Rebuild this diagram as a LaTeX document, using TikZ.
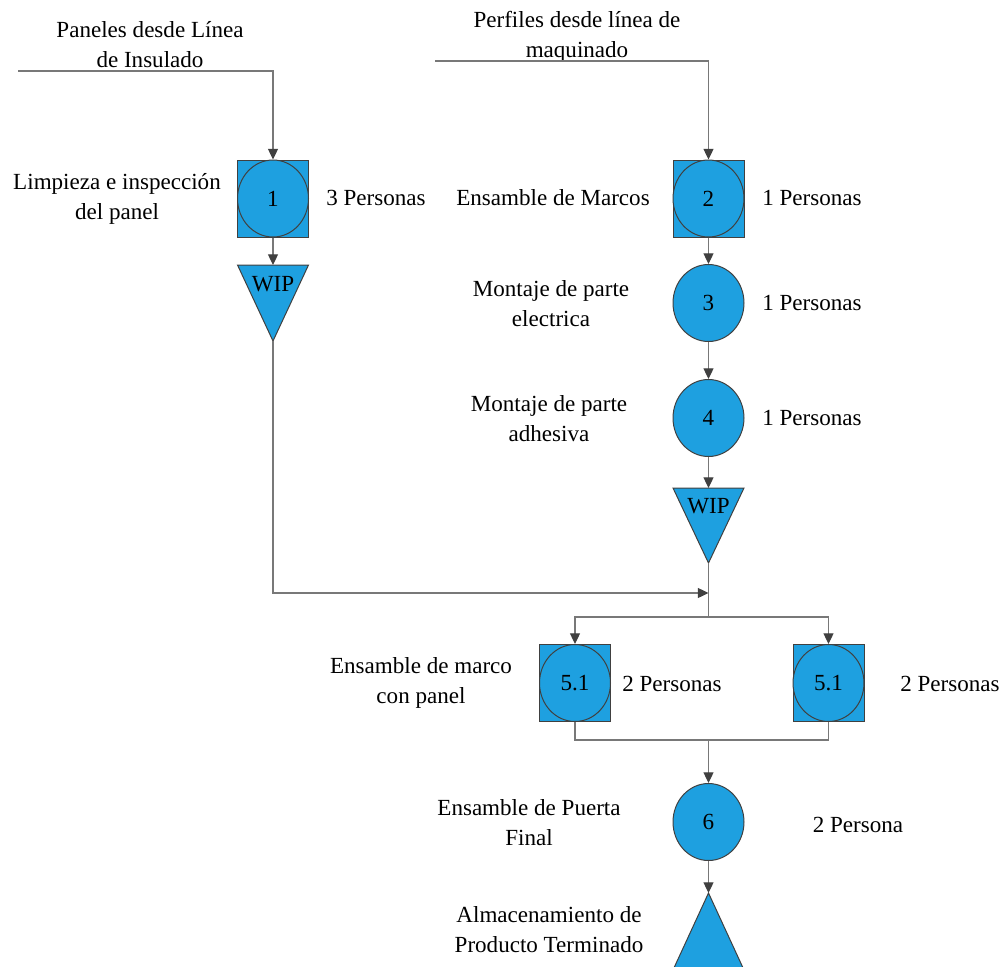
\documentclass[tikz,border=0pt]{standalone}
\usepackage{fontspec}
\setmainfont{Liberation Serif}
\usetikzlibrary{arrows.meta,shapes.geometric}
\definecolor{procblue}{RGB}{30,160,224}
\definecolor{edgegray}{RGB}{64,64,64}
\definecolor{wiregray}{RGB}{120,120,120}

\begin{document}
\begin{tikzpicture}[x=0.75pt,y=-0.75pt,
  every node/.style={font=\fontsize{17.3}{22.5}\selectfont, inner sep=0pt, text=black},
  txt/.style={align=center},
  opbox/.style={rectangle, draw=edgegray, fill=procblue, line width=0.75pt,
    minimum width=53.25pt, minimum height=57.75pt},
  opcircle/.style={ellipse, draw=edgegray, fill=procblue, line width=0.75pt,
    minimum width=53.25pt, minimum height=57.75pt},
  storage/.style={draw=edgegray, fill=procblue, line width=0.75pt, line join=miter},
  wire/.style={draw=wiregray, line width=0.9pt},
  flow/.style={wire, -{Triangle[width=7.5pt, length=8pt, color=edgegray]}}
]
\useasboundingbox (0,0) rectangle (1004,967);

% ---- incoming material lines ----
\coordinate (in1) at (18,71);
\coordinate (in2) at (435,61);
\node[txt] (t_in1) at (150,45) {Paneles desde Línea\\de Insulado};
\node[txt] (t_in2) at (577,37) {Perfiles desde línea de\\maquinado};

% ---- left branch: panels ----
\node[opbox] (b1) at (273,198.5) {};
\node[opcircle] (c1) at (b1) {1};
\node[txt] (t_b1) at (117,199) {Limpieza e inspección\\del panel};
\node (p1) at (376,198) {3 Personas};

\path[storage] (237.5,265) -- (308.5,265) -- (273,341) -- cycle;
\coordinate (w1top) at (273,265);
\coordinate (w1apex) at (273,341);
\node (w1) at (273,284) {WIP};

% ---- right branch: frames ----
\node[opbox] (b2) at (708.5,198.5) {};
\node[opcircle] (c2) at (b2) {2};
\node (t_b2) at (553,198) {Ensamble de Marcos};
\node (p2) at (812,198) {1 Personas};

\node[opcircle] (c3) at (708.5,303) {3};
\node[txt] (t_c3) at (551,304) {Montaje de parte\\electrica};
\node (p3) at (812,303) {1 Personas};

\node[opcircle] (c4) at (708.5,418) {4};
\node[txt] (t_c4) at (549,419) {Montaje de parte\\adhesiva};
\node (p4) at (812,418) {1 Personas};

\path[storage] (673,488) -- (744,488) -- (708.5,563) -- cycle;
\coordinate (w2top) at (708.5,488);
\coordinate (w2apex) at (708.5,563);
\node (w2) at (708.5,506) {WIP};

% ---- parallel assembly ----
\coordinate (join) at (708.5,593);
\coordinate (split) at (708.5,617);
\coordinate (merge) at (708.5,740);

\node[opbox] (b51) at (575,683) {};
\node[opcircle] (c51) at (b51) {5.1};
\node[txt] (t_b51) at (421,683) {Ensamble de marco\\con panel};
\node (p51) at (672,684) {2 Personas};

\node[opbox] (b52) at (828.5,683) {};
\node[opcircle] (c52) at (b52) {5.1};
\node (p52) at (950,684) {2 Personas};

\node[opcircle] (c6) at (708.5,822) {6};
\node[txt] (t_c6) at (529,823) {Ensamble de Puerta\\Final};
\node (p6) at (858,825) {2 Persona};

% ---- finished goods storage ----
\begin{scope}
  \clip (0,0) rectangle (1004,967);
  \path[storage] (708.5,893) -- (744,970) -- (673,970) -- cycle;
\end{scope}
\coordinate (fgapex) at (708.5,893);
\node[txt] (t_fg) at (549,930) {Almacenamiento de\\Producto Terminado};

% ---- connectors ----
\draw[flow] (in1) -| (b1.north);
\draw[flow] (in2) -| (b2.north);
\draw[flow] (b1.south) -- (w1top);
\draw[flow] (w1apex) |- (join);
\draw[flow] (b2.south) -- (c3.north);
\draw[flow] (c3.south) -- (c4.north);
\draw[flow] (c4.south) -- (w2top);
\draw[wire] (w2apex) -- (split);
\draw[flow] (split) -| (b51.north);
\draw[flow] (split) -| (b52.north);
\draw[wire] (b51.south) |- (merge);
\draw[wire] (b52.south) |- (merge);
\draw[flow] (merge) -- (c6.north);
\draw[flow] (c6.south) -- (fgapex);
\end{tikzpicture}
\end{document}
